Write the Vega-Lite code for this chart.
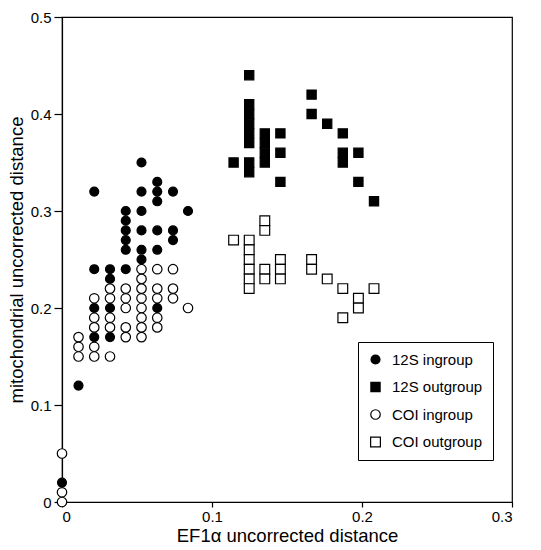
{
  "$schema": "https://vega.github.io/schema/vega-lite/v6.json",
  "autosize": "none",
  "width": 450,
  "height": 485,
  "padding": {"left": 62, "top": 17, "right": 29, "bottom": 48},
  "background": "white",
  "data": {
    "values": [
      {"x": 0, "y": 0.02, "g": "12S ingroup"},
      {"x": 0.011, "y": 0.12, "g": "12S ingroup"},
      {"x": 0.0215, "y": 0.32, "g": "12S ingroup"},
      {"x": 0.0215, "y": 0.24, "g": "12S ingroup"},
      {"x": 0.0215, "y": 0.20, "g": "12S ingroup"},
      {"x": 0.0215, "y": 0.17, "g": "12S ingroup"},
      {"x": 0.032, "y": 0.24, "g": "12S ingroup"},
      {"x": 0.032, "y": 0.23, "g": "12S ingroup"},
      {"x": 0.032, "y": 0.20, "g": "12S ingroup"},
      {"x": 0.032, "y": 0.17, "g": "12S ingroup"},
      {"x": 0.0425, "y": 0.30, "g": "12S ingroup"},
      {"x": 0.0425, "y": 0.29, "g": "12S ingroup"},
      {"x": 0.0425, "y": 0.28, "g": "12S ingroup"},
      {"x": 0.0425, "y": 0.27, "g": "12S ingroup"},
      {"x": 0.0425, "y": 0.26, "g": "12S ingroup"},
      {"x": 0.0425, "y": 0.24, "g": "12S ingroup"},
      {"x": 0.053, "y": 0.35, "g": "12S ingroup"},
      {"x": 0.053, "y": 0.32, "g": "12S ingroup"},
      {"x": 0.053, "y": 0.30, "g": "12S ingroup"},
      {"x": 0.053, "y": 0.28, "g": "12S ingroup"},
      {"x": 0.053, "y": 0.26, "g": "12S ingroup"},
      {"x": 0.053, "y": 0.25, "g": "12S ingroup"},
      {"x": 0.0635, "y": 0.33, "g": "12S ingroup"},
      {"x": 0.0635, "y": 0.32, "g": "12S ingroup"},
      {"x": 0.0635, "y": 0.31, "g": "12S ingroup"},
      {"x": 0.0635, "y": 0.28, "g": "12S ingroup"},
      {"x": 0.0635, "y": 0.26, "g": "12S ingroup"},
      {"x": 0.0635, "y": 0.20, "g": "12S ingroup"},
      {"x": 0.074, "y": 0.32, "g": "12S ingroup"},
      {"x": 0.074, "y": 0.28, "g": "12S ingroup"},
      {"x": 0.074, "y": 0.27, "g": "12S ingroup"},
      {"x": 0.084, "y": 0.30, "g": "12S ingroup"},

      {"x": 0.1144, "y": 0.35, "g": "12S outgroup"},
      {"x": 0.1248, "y": 0.44, "g": "12S outgroup"},
      {"x": 0.1248, "y": 0.41, "g": "12S outgroup"},
      {"x": 0.1248, "y": 0.40, "g": "12S outgroup"},
      {"x": 0.1248, "y": 0.39, "g": "12S outgroup"},
      {"x": 0.1248, "y": 0.38, "g": "12S outgroup"},
      {"x": 0.1248, "y": 0.37, "g": "12S outgroup"},
      {"x": 0.1248, "y": 0.35, "g": "12S outgroup"},
      {"x": 0.1248, "y": 0.34, "g": "12S outgroup"},
      {"x": 0.1352, "y": 0.38, "g": "12S outgroup"},
      {"x": 0.1352, "y": 0.37, "g": "12S outgroup"},
      {"x": 0.1352, "y": 0.36, "g": "12S outgroup"},
      {"x": 0.1352, "y": 0.35, "g": "12S outgroup"},
      {"x": 0.1456, "y": 0.38, "g": "12S outgroup"},
      {"x": 0.1456, "y": 0.36, "g": "12S outgroup"},
      {"x": 0.1456, "y": 0.33, "g": "12S outgroup"},
      {"x": 0.1664, "y": 0.42, "g": "12S outgroup"},
      {"x": 0.1664, "y": 0.40, "g": "12S outgroup"},
      {"x": 0.1768, "y": 0.39, "g": "12S outgroup"},
      {"x": 0.1872, "y": 0.38, "g": "12S outgroup"},
      {"x": 0.1872, "y": 0.36, "g": "12S outgroup"},
      {"x": 0.1872, "y": 0.35, "g": "12S outgroup"},
      {"x": 0.1976, "y": 0.36, "g": "12S outgroup"},
      {"x": 0.1976, "y": 0.33, "g": "12S outgroup"},
      {"x": 0.208, "y": 0.31, "g": "12S outgroup"},

      {"x": 0, "y": 0.05, "g": "COI ingroup"},
      {"x": 0, "y": 0.01, "g": "COI ingroup"},
      {"x": 0, "y": 0.0, "g": "COI ingroup"},
      {"x": 0.011, "y": 0.17, "g": "COI ingroup"},
      {"x": 0.011, "y": 0.16, "g": "COI ingroup"},
      {"x": 0.011, "y": 0.15, "g": "COI ingroup"},
      {"x": 0.0215, "y": 0.21, "g": "COI ingroup"},
      {"x": 0.0215, "y": 0.19, "g": "COI ingroup"},
      {"x": 0.0215, "y": 0.18, "g": "COI ingroup"},
      {"x": 0.0215, "y": 0.16, "g": "COI ingroup"},
      {"x": 0.0215, "y": 0.15, "g": "COI ingroup"},
      {"x": 0.032, "y": 0.22, "g": "COI ingroup"},
      {"x": 0.032, "y": 0.21, "g": "COI ingroup"},
      {"x": 0.032, "y": 0.19, "g": "COI ingroup"},
      {"x": 0.032, "y": 0.18, "g": "COI ingroup"},
      {"x": 0.032, "y": 0.15, "g": "COI ingroup"},
      {"x": 0.0425, "y": 0.22, "g": "COI ingroup"},
      {"x": 0.0425, "y": 0.21, "g": "COI ingroup"},
      {"x": 0.0425, "y": 0.20, "g": "COI ingroup"},
      {"x": 0.0425, "y": 0.18, "g": "COI ingroup"},
      {"x": 0.0425, "y": 0.17, "g": "COI ingroup"},
      {"x": 0.053, "y": 0.24, "g": "COI ingroup"},
      {"x": 0.053, "y": 0.23, "g": "COI ingroup"},
      {"x": 0.053, "y": 0.22, "g": "COI ingroup"},
      {"x": 0.053, "y": 0.21, "g": "COI ingroup"},
      {"x": 0.053, "y": 0.20, "g": "COI ingroup"},
      {"x": 0.053, "y": 0.19, "g": "COI ingroup"},
      {"x": 0.053, "y": 0.18, "g": "COI ingroup"},
      {"x": 0.053, "y": 0.17, "g": "COI ingroup"},
      {"x": 0.0635, "y": 0.24, "g": "COI ingroup"},
      {"x": 0.0635, "y": 0.22, "g": "COI ingroup"},
      {"x": 0.0635, "y": 0.21, "g": "COI ingroup"},
      {"x": 0.0635, "y": 0.19, "g": "COI ingroup"},
      {"x": 0.0635, "y": 0.18, "g": "COI ingroup"},
      {"x": 0.074, "y": 0.24, "g": "COI ingroup"},
      {"x": 0.074, "y": 0.22, "g": "COI ingroup"},
      {"x": 0.074, "y": 0.21, "g": "COI ingroup"},
      {"x": 0.084, "y": 0.20, "g": "COI ingroup"},

      {"x": 0.1144, "y": 0.27, "g": "COI outgroup"},
      {"x": 0.1248, "y": 0.27, "g": "COI outgroup"},
      {"x": 0.1248, "y": 0.26, "g": "COI outgroup"},
      {"x": 0.1248, "y": 0.25, "g": "COI outgroup"},
      {"x": 0.1248, "y": 0.24, "g": "COI outgroup"},
      {"x": 0.1248, "y": 0.23, "g": "COI outgroup"},
      {"x": 0.1248, "y": 0.22, "g": "COI outgroup"},
      {"x": 0.1352, "y": 0.29, "g": "COI outgroup"},
      {"x": 0.1352, "y": 0.28, "g": "COI outgroup"},
      {"x": 0.1352, "y": 0.24, "g": "COI outgroup"},
      {"x": 0.1352, "y": 0.23, "g": "COI outgroup"},
      {"x": 0.1456, "y": 0.25, "g": "COI outgroup"},
      {"x": 0.1456, "y": 0.24, "g": "COI outgroup"},
      {"x": 0.1456, "y": 0.23, "g": "COI outgroup"},
      {"x": 0.1664, "y": 0.25, "g": "COI outgroup"},
      {"x": 0.1664, "y": 0.24, "g": "COI outgroup"},
      {"x": 0.1768, "y": 0.23, "g": "COI outgroup"},
      {"x": 0.1872, "y": 0.22, "g": "COI outgroup"},
      {"x": 0.1872, "y": 0.19, "g": "COI outgroup"},
      {"x": 0.1976, "y": 0.21, "g": "COI outgroup"},
      {"x": 0.1976, "y": 0.20, "g": "COI outgroup"},
      {"x": 0.208, "y": 0.22, "g": "COI outgroup"}
    ]
  },
  "mark": {"type": "point", "strokeWidth": 1.2, "opacity": 1, "fillOpacity": 1, "strokeOpacity": 1, "clip": false},
  "encoding": {
    "x": {
      "field": "x", "type": "quantitative",
      "scale": {"domain": [0, 0.3], "nice": false, "zero": false},
      "axis": {"title": "EF1α uncorrected distance", "values": [0, 0.1, 0.2, 0.3], "format": ".1~f", "tickSize": 5, "labelPadding": 2, "titlePadding": 2}
    },
    "y": {
      "field": "y", "type": "quantitative",
      "scale": {"domain": [0, 0.5], "nice": false, "zero": false},
      "axis": {"title": "mitochondrial uncorrected distance", "values": [0, 0.1, 0.2, 0.3, 0.4, 0.5], "format": ".1~f", "tickSize": 8, "labelPadding": 3, "titlePadding": 4}
    },
    "shape": {
      "field": "g", "type": "nominal",
      "scale": {"domain": ["12S ingroup", "12S outgroup", "COI ingroup", "COI outgroup"], "range": ["circle", "square", "circle", "square"]},
      "legend": {"title": null, "orient": "none", "legendX": 296, "legendY": 325}
    },
    "fill": {
      "field": "g", "type": "nominal",
      "scale": {"domain": ["12S ingroup", "12S outgroup", "COI ingroup", "COI outgroup"], "range": ["black", "black", "white", "white"]},
      "legend": {"title": null, "orient": "none", "legendX": 296, "legendY": 325}
    },
    "stroke": {
      "field": "g", "type": "nominal",
      "scale": {"domain": ["12S ingroup", "12S outgroup", "COI ingroup", "COI outgroup"], "range": ["black", "black", "black", "black"]},
      "legend": {"title": null, "orient": "none", "legendX": 296, "legendY": 325}
    },
    "size": {
      "field": "g", "type": "nominal",
      "scale": {"domain": ["12S ingroup", "12S outgroup", "COI ingroup", "COI outgroup"], "range": [80, 95, 55, 72]},
      "legend": {"title": null, "orient": "none", "legendX": 296, "legendY": 325}
    }
  },
  "config": {
    "view": {"stroke": "black", "strokeWidth": 1.2},
    "axis": {
      "grid": false,
      "domainColor": "black", "domainWidth": 1.2,
      "tickColor": "black", "tickWidth": 1.2,
      "labelColor": "black", "titleColor": "black",
      "labelFont": "Liberation Sans", "titleFont": "Liberation Sans",
      "labelFontSize": 15, "titleFontSize": 18.5, "titleFontWeight": "normal"
    },
    "legend": {
      "strokeColor": "black", "fillColor": "white", "padding": 10,
      "labelFont": "Liberation Sans", "labelFontSize": 15, "labelColor": "black",
      "rowPadding": 11.5, "labelOffset": 9,
      "symbolStrokeWidth": 1.2
    }
  }
}
